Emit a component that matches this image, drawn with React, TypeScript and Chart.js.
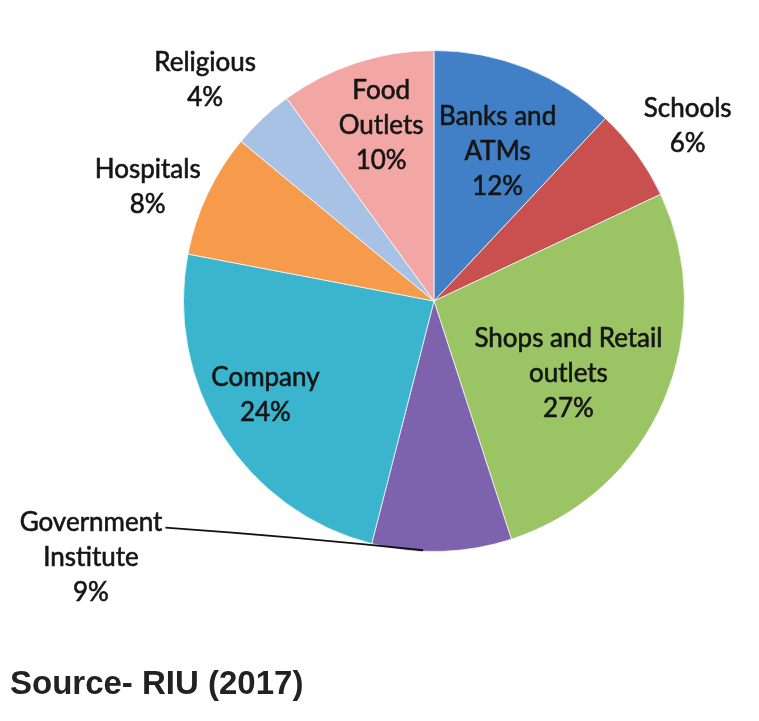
import React, { useEffect, useRef } from "react";
import { Chart, registerables } from "chart.js";

Chart.register(...registerables);

const categories = [
  "Banks and ATMs",
  "Schools",
  "Shops and Retail outlets",
  "Government Institute",
  "Company",
  "Hospitals",
  "Religious",
  "Food Outlets",
];
const values = [12, 6, 27, 9, 24, 8, 4, 10];
const colors = ["#4180C6", "#C9504F", "#9BC565", "#7D62AE", "#3AB5CD", "#F69A4B", "#A8C2E5", "#F2A7A5"];
const labelLines = [
  ["Banks and", "ATMs"],
  ["Schools"],
  ["Shops and Retail", "outlets"],
  ["Government", "Institute"],
  ["Company"],
  ["Hospitals"],
  ["Religious"],
  ["Food", "Outlets"],
];
// label placement: radial factor (x radius) and angular tweak in degrees
const labelRadial = [0.65, 1.23, 0.61, 1.71, 0.77, 1.23, 1.27, 0.73];
const labelAngleAdj = [1.4, 1.4, 5, 55, 3.3, -3.5, -2.8, 1.2];
const leaderIndex = 3;

const labelPlugin = {
  id: "sliceLabels",
  afterDraw(chart: any) {
    const ctx = chart.ctx;
    const meta = chart.getDatasetMeta(0);
    ctx.save();
    ctx.font = "26px Lato";
    ctx.fillStyle = "#151515";
    ctx.strokeStyle = "#151515";
    ctx.lineWidth = 0.6;
    ctx.textAlign = "center";
    ctx.textBaseline = "middle";
    const lh = 35;
    meta.data.forEach((arc: any, i: number) => {
      const p = arc.getProps(["x", "y", "startAngle", "endAngle", "outerRadius"], true);
      const mid = (p.startAngle + p.endAngle) / 2 + (labelAngleAdj[i] * Math.PI) / 180;
      const r = p.outerRadius * labelRadial[i];
      const cx = p.x + Math.cos(mid) * r;
      const cy = p.y + Math.sin(mid) * r;
      const lines = [...labelLines[i], values[i] + "%"];
      const y0 = cy - ((lines.length - 1) * lh) / 2;
      lines.forEach((t, k) => {
        ctx.fillText(t, cx, y0 + k * lh);
        ctx.strokeText(t, cx, y0 + k * lh);
      });
      if (i === leaderIndex) {
        const w = ctx.measureText(lines[0]).width;
        const sx = cx + w / 2 + 3;
        const sy = y0 + 5;
        const ea = (p.startAngle + p.endAngle) / 2 + (4.3 * Math.PI) / 180;
        const ex = p.x + Math.cos(ea) * (p.outerRadius - 1);
        const ey = p.y + Math.sin(ea) * (p.outerRadius - 1);
        ctx.save();
        ctx.strokeStyle = "#111";
        ctx.lineWidth = 1.8;
        ctx.beginPath();
        ctx.moveTo(sx, sy);
        ctx.quadraticCurveTo((sx + ex) / 2, sy + (ey - sy) * 0.4, ex, ey);
        ctx.stroke();
        ctx.restore();
      }
    });
    ctx.restore();
  },
};

export default function App() {
  const ref = useRef<HTMLCanvasElement>(null);
  useEffect(() => {
    if (!ref.current) return;
    const chart = new Chart(ref.current, {
      type: "pie",
      data: {
        labels: categories,
        datasets: [
          {
            data: values,
            backgroundColor: colors,
            borderColor: "rgba(255,255,255,0.7)",
            borderWidth: 1,
          },
        ],
      },
      options: {
        animation: false,
        responsive: true,
        maintainAspectRatio: false,
        layout: { padding: { left: 183, top: 50, right: 74, bottom: 169 } },
        plugins: { legend: { display: false }, tooltip: { enabled: false } },
      },
      plugins: [labelPlugin],
    });
    return () => chart.destroy();
  }, []);
  return (
    <div style={{ position: "fixed", left: 0, top: 0, width: 759, height: 721, background: "#fff" }}>
      <canvas ref={ref} />
      <div
        style={{
          position: "absolute",
          left: 10,
          top: 664,
          fontFamily: "'Liberation Sans', Arial, sans-serif",
          fontWeight: "bold",
          fontSize: 33,
          color: "#222",
          whiteSpace: "nowrap",
        }}
      >
        Source- RIU (2017)
      </div>
    </div>
  );
}
